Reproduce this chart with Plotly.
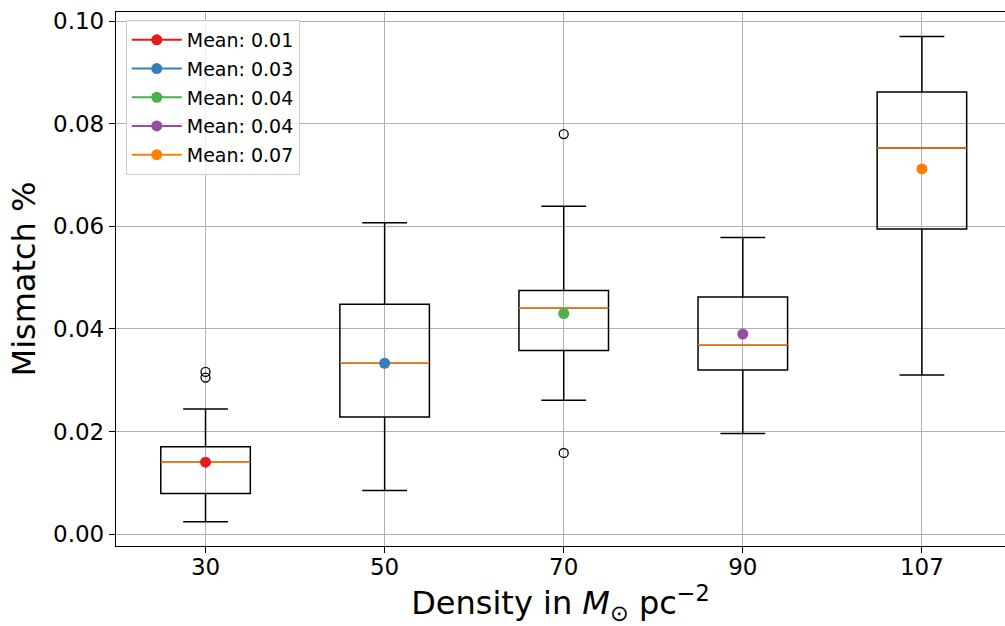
import plotly.graph_objects as go

# densities (x categories) and box statistics
densities = ["30", "50", "70", "90", "107"]
q1 = [0.0079, 0.0228, 0.0358, 0.0320, 0.0595]
median = [0.0140, 0.0334, 0.0441, 0.0369, 0.0753]
q3 = [0.0170, 0.0448, 0.0475, 0.0462, 0.0862]
lower_whisker = [0.0024, 0.0085, 0.0261, 0.0196, 0.0310]
upper_whisker = [0.0244, 0.0607, 0.0639, 0.0578, 0.0970]
means = [0.0140, 0.0333, 0.0430, 0.0390, 0.0712]
mean_labels = ["Mean: 0.01", "Mean: 0.03", "Mean: 0.04", "Mean: 0.04", "Mean: 0.07"]
outliers = [[0.0316, 0.0305], [], [0.0780, 0.0158], [], []]

colors = ["#e41a1c", "#377eb8", "#4daf4a", "#984ea3", "#ff7f00"]
pos = list(range(1, len(densities) + 1))
box_w = 0.5

fig = go.Figure()

# boxes with whiskers
fig.add_trace(go.Box(
    x=pos, q1=q1, median=median, q3=q3,
    lowerfence=lower_whisker, upperfence=upper_whisker,
    width=box_w, whiskerwidth=0.5,
    line=dict(color="black", width=1.5),
    fillcolor="rgba(0,0,0,0)",
    boxpoints=False, hoverinfo="skip", showlegend=False,
))

# orange median lines drawn on top of the box medians
mx, my = [], []
for p, m in zip(pos, median):
    mx += [p - box_w / 2, p + box_w / 2, None]
    my += [m, m, None]
fig.add_trace(go.Scatter(x=mx, y=my, mode="lines",
                         line=dict(color="#ff7f0e", width=1.5),
                         showlegend=False, hoverinfo="skip"))

# fliers
ox, oy = [], []
for p, vals in zip(pos, outliers):
    for v in vals:
        ox.append(p)
        oy.append(v)
fig.add_trace(go.Scatter(x=ox, y=oy, mode="markers",
                         marker=dict(symbol="circle-open", size=9,
                                     color="black", line=dict(width=1.3)),
                         showlegend=False, hoverinfo="skip"))

# means
for i, (p, m) in enumerate(zip(pos, means)):
    fig.add_trace(go.Scatter(x=[p], y=[m], mode="lines+markers",
                             name=mean_labels[i], legendgroup=str(i),
                             marker=dict(color=colors[i], size=11),
                             line=dict(color=colors[i], width=2)))

fig.update_layout(
    width=1005, height=626,
    margin=dict(l=116, r=0, t=12, b=80),
    plot_bgcolor="white", paper_bgcolor="white",
    font=dict(family="DejaVu Sans", color="black", size=23),
    showlegend=True,
    legend=dict(x=0.011, y=0.985, xanchor="left", yanchor="top",
                bgcolor="rgba(255,255,255,0.8)", bordercolor="#cccccc",
                borderwidth=1, font=dict(size=19), tracegroupgap=1,
                itemwidth=50),
)
fig.update_xaxes(
    type="linear", range=[0.5, 5.464], automargin=False,
    tickvals=pos, ticktext=densities,
    showgrid=True, gridcolor="#b0b0b0", gridwidth=1,
    showline=True, linecolor="black", linewidth=1.3, mirror=True,
    ticks="outside", ticklen=6, tickcolor="black", zeroline=False,
    ticklabelstandoff=-6,
    title=dict(text="Density in <i>M</i><sub>⊙</sub> pc<sup>−2</sup>",
               font=dict(size=32), standoff=4),
)
fig.update_yaxes(
    range=[-0.00234, 0.1018], automargin=False,
    tickvals=[0, 0.02, 0.04, 0.06, 0.08, 0.10], tickformat=".2f",
    showgrid=True, gridcolor="#b0b0b0", gridwidth=1,
    showline=True, linecolor="black", linewidth=1.3, mirror=True,
    ticks="outside", ticklen=6, tickcolor="black", zeroline=False,
    title=dict(text="Mismatch %", font=dict(size=32), standoff=7),
)

# drop the page's default body margin so the figure sits at the window corner
fig.write_html("out.html", config={"displayModeBar": False},
               post_script="document.body.style.margin='0';"
                           "document.body.style.overflow='hidden';")
